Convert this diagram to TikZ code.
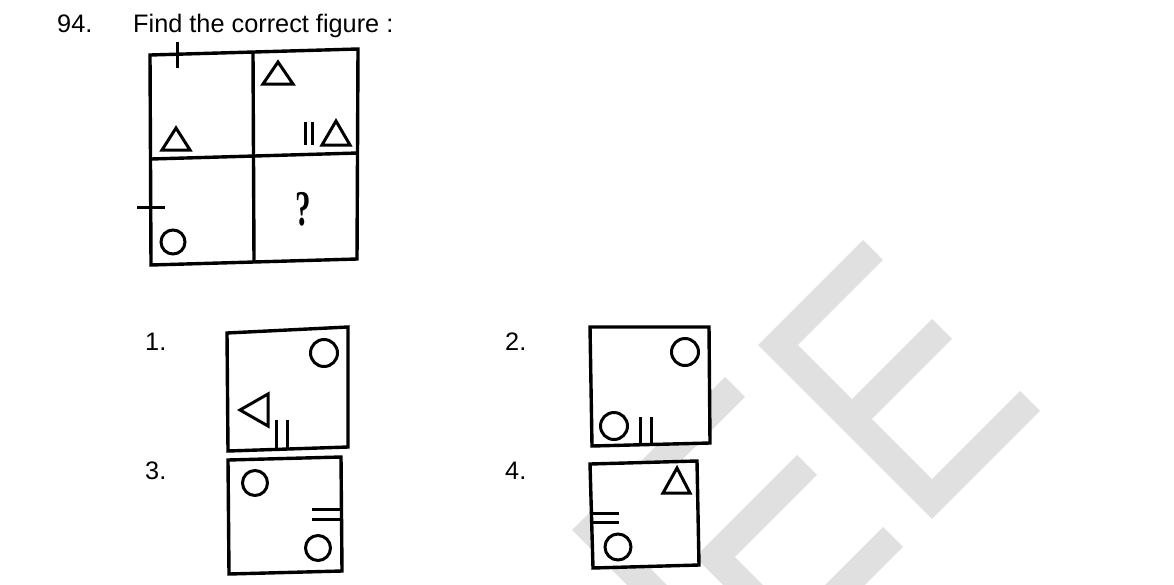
\documentclass[tikz,border=0pt]{standalone}
\usepackage{fontspec}
\usepackage{xcolor}
\setmainfont{Liberation Sans}
\newfontfamily\qmarkfont{Liberation Serif}
\newcommand\qsize{\fontsize{25.3}{30}\selectfont}
\definecolor{wmgrey}{RGB}{224,224,224}

\begin{document}
\begin{tikzpicture}[x=1pt,y=-1pt,
  figbox/.style={line width=3.4pt, line join=miter, fill=white},
  figsym/.style={line width=3pt},
  wmark/.style={draw=wmgrey, line width=28pt, line cap=butt, line join=miter},
  qlabel/.style={anchor=base west, inner sep=0pt, font=\qsize}]
\useasboundingbox[fill=white] (0,0) rectangle (1174,584);

% watermark
\begin{scope}
\clip (0,0) rectangle (1174,584);
\draw[wmark] (873,250) -- (778,345) -- (932,499) -- (1030,401);
\draw[wmark] (852,419) -- (942,329);
\draw[wmark] (735,387) -- (592,530) -- (662,600);
\draw[wmark] (807,465) -- (715,557) -- (762,604);
\draw[wmark] (893,537) -- (833,597);
\end{scope}

% question
\node[qlabel] (qnum) at (57,32) {94.};
\node[qlabel] (qtext) at (133,32) {Find the correct figure :};

% problem figure
\draw[figbox] (150,55) -- (358,49) -- (357,259) -- (151,265) -- cycle;
\draw[line width=3.4pt] (253,52) -- (254,262);
\draw[line width=3.4pt] (151,159) -- (358,153);

\draw[figsym] (177,42) -- (177,68);
\draw[figsym] (176,128) -- (190,150) -- (162,150) -- cycle;
\draw[figsym] (278,62) -- (293,84) -- (263,84) -- cycle;
\draw[figsym] (305,122) -- (305,145);
\draw[figsym] (312,122) -- (312,145);
\draw[figsym] (336,121) -- (350,145) -- (322,145) -- cycle;
\draw[figsym] (137,207) -- (165,207);
\draw[figsym] (173,242) circle (12);
\node[inner sep=0pt, xscale=0.62, font=\qmarkfont\bfseries\fontsize{50}{50}\selectfont] (qmark) at (303,209) {?};

% answer figures
\node[qlabel] (lab1) at (145,350) {1.};
\node[qlabel] (lab2) at (505,350) {2.};
\node[qlabel] (lab3) at (145,479) {3.};
\node[qlabel] (lab4) at (505,479) {4.};

\draw[figbox] (227,333) -- (348,327) -- (348,447) -- (228,451) -- cycle;
\draw[figsym] (324,353) circle (13.5);
\draw[figsym] (240,410) -- (268,394) -- (268,426) -- cycle;
\draw[figsym] (276,420) -- (276,449);
\draw[figsym] (287,420) -- (287,448);

\draw[figbox] (590,327) -- (709,327) -- (710,443) -- (592,446) -- cycle;
\draw[figsym] (685,352) circle (13.5);
\draw[figsym] (614,426) circle (13.5);
\draw[figsym] (640,417) -- (640,445);
\draw[figsym] (651,417) -- (651,444);

\draw[figbox] (228,460) -- (341,457) -- (342,571) -- (229,574) -- cycle;
\draw[figsym] (255,483) circle (12.5);
\draw[figsym] (312,509) -- (341,509);
\draw[figsym] (312,519) -- (341,519);
\draw[figsym] (318,548) circle (12.5);

\draw[figbox] (590,464) -- (697,461) -- (699,565) -- (593,568) -- cycle;
\draw[figsym] (677,468) -- (690,493) -- (663,493) -- cycle;
\draw[figsym] (592,513) -- (619,513);
\draw[figsym] (592,522) -- (619,522);
\draw[figsym] (618,547) circle (13);
\end{tikzpicture}
\end{document}
